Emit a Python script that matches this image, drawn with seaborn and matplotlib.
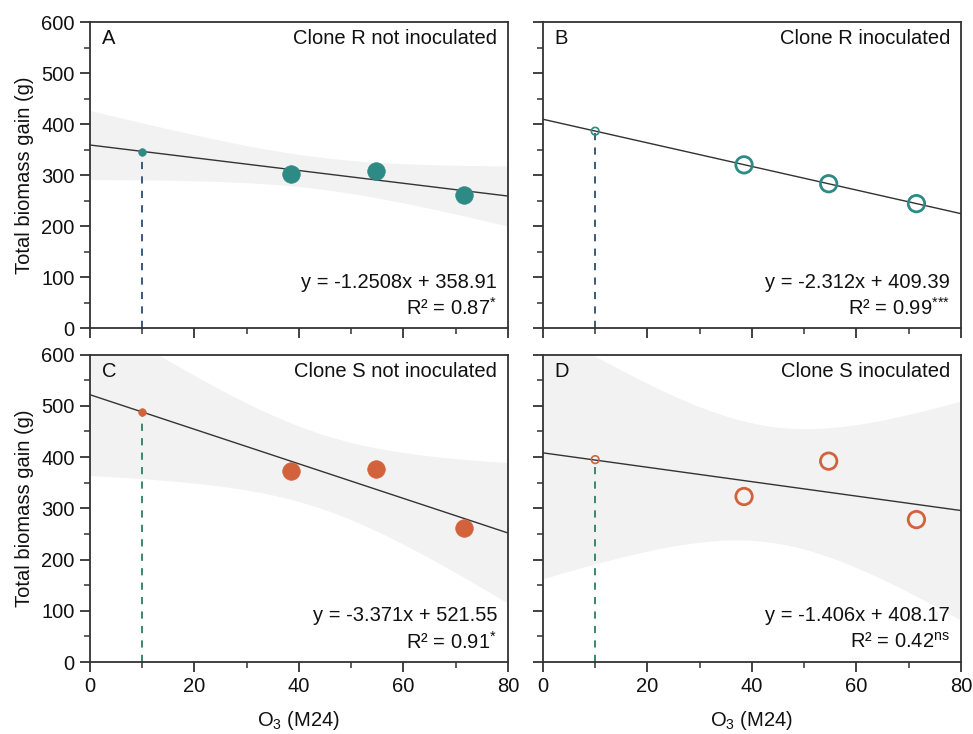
import numpy as np
import pandas as pd
import matplotlib
matplotlib.use("Agg")
import matplotlib.pyplot as plt
import seaborn as sns
from matplotlib.ticker import MultipleLocator

sns.set_theme(style="ticks")
plt.rcParams['font.family'] = ['Liberation Sans', 'DejaVu Sans']
plt.rcParams['mathtext.fontset'] = 'custom'
plt.rcParams['mathtext.rm'] = 'Liberation Sans'
plt.rcParams['mathtext.it'] = 'Liberation Sans:italic'
plt.rcParams['mathtext.default'] = 'regular'

# ---- data ----
panel_letters = ["A", "B", "C", "D"]
panel_titles = ["Clone R not inoculated", "Clone R inoculated",
                "Clone S not inoculated", "Clone S inoculated"]
o3_levels = [38.5, 54.7, 71.5]
biomass_A = [302, 307, 261]
biomass_B = [320, 283, 244]
biomass_C = [372, 376, 261]
biomass_D = [323, 392, 278]
ref_x = 10
ref_y = [346, 386, 488, 395]
slopes = [-1.2508, -2.312, -3.371, -1.406]
intercepts = [358.91, 409.39, 521.55, 408.17]
eq_labels = ["y = -1.2508x + 358.91", "y = -2.312x + 409.39",
             "y = -3.371x + 521.55", "y = -1.406x + 408.17"]
r2_labels = ["R\u00b2 = 0.87$^{{*}}$", "R\u00b2 = 0.99$^{{*}{*}{*}}$",
             "R\u00b2 = 0.91$^{{*}}$", "R\u00b2 = 0.42$^{ns}$"]
filled = [True, False, True, False]
T95_DF2 = 4.303

teal = "#2e8a84"
orange = "#d2623c"
marker_colors = [teal, teal, orange, orange]
dash_colors = ["#2b4d6e", "#2b4d6e", "#2e7d60", "#2e7d60"]
biomass = [biomass_A, biomass_B, biomass_C, biomass_D]

FS = 14.5
fig = plt.figure(figsize=(9.73, 7.34), dpi=100)
positions = [
    [0.0925, 0.553, 0.4295, 0.417],
    [0.558, 0.553, 0.4295, 0.417],
    [0.0925, 0.098, 0.4295, 0.419],
    [0.558, 0.098, 0.4295, 0.419],
]
edge = "#333333"
txt = "#111111"
for i in range(4):
    ax = fig.add_axes(positions[i])
    xs = np.linspace(0, 80, 200)
    b1, b0 = slopes[i], intercepts[i]
    yline = b0 + b1 * xs
    # confidence band of the fit (4 points incl. reference point)
    x4 = np.array([ref_x] + o3_levels, dtype=float)
    y4 = np.array([ref_y[i]] + biomass[i], dtype=float)
    res = y4 - (b0 + b1 * x4)
    n = len(x4)
    s = np.sqrt(np.sum(res ** 2) / (n - 2))
    xm = x4.mean()
    sxx = np.sum((x4 - xm) ** 2)
    h = T95_DF2 * s * np.sqrt(1 / n + (xs - xm) ** 2 / sxx)
    ax.fill_between(xs, yline - h, yline + h, color="#f2f2f2", lw=0, zorder=1)
    # fit line
    sns.lineplot(x=xs, y=yline, ax=ax, color="#333333", lw=1.0, zorder=3)
    # dashed reference line
    ax.plot([ref_x, ref_x], [0, ref_y[i]], ls=(0, (4, 4)), color=dash_colors[i], lw=1.3, zorder=2)
    df = pd.DataFrame({"x": o3_levels, "y": biomass[i]})
    if filled[i]:
        sns.scatterplot(data=df, x="x", y="y", ax=ax, s=160, color=marker_colors[i],
                        edgecolor=marker_colors[i], linewidth=0.5, zorder=4)
        sns.scatterplot(x=[ref_x], y=[ref_y[i]], ax=ax, s=30, color=marker_colors[i],
                        edgecolor=marker_colors[i], linewidth=0.5, zorder=4)
    else:
        sns.scatterplot(data=df, x="x", y="y", ax=ax, s=140, facecolor="none",
                        edgecolor=marker_colors[i], linewidth=2.0, zorder=4)
        sns.scatterplot(x=[ref_x], y=[ref_y[i]], ax=ax, s=30, facecolor="none",
                        edgecolor=marker_colors[i], linewidth=1.2, zorder=4)
    ax.set_xlim(0, 80)
    ax.set_ylim(0, 600)
    ax.xaxis.set_major_locator(MultipleLocator(20))
    ax.xaxis.set_minor_locator(MultipleLocator(10))
    ax.yaxis.set_major_locator(MultipleLocator(100))
    ax.yaxis.set_minor_locator(MultipleLocator(50))
    ax.tick_params(axis="both", which="major", direction="out", length=7, width=1.3,
                   color=edge, labelsize=FS, pad=4, labelcolor=txt)
    ax.tick_params(axis="both", which="minor", direction="out", length=4, width=1.1, color=edge)
    for sp in ax.spines.values():
        sp.set_visible(True)
        sp.set_color(edge)
        sp.set_linewidth(1.3)
    if i in (0, 1):
        ax.set_xticklabels([])
        ax.set_xlabel("")
    else:
        ax.set_xlabel("O$_3$ (M24)", fontsize=FS, labelpad=9, color=txt)
    if i in (1, 3):
        ax.set_yticklabels([])
        ax.set_ylabel("")
    else:
        ax.set_ylabel("Total biomass gain (g)", fontsize=FS, labelpad=5, color=txt)
    ax.text(0.028, 0.945, panel_letters[i], transform=ax.transAxes, fontsize=FS,
            ha="left", va="center", color=txt)
    ax.text(0.974, 0.945, panel_titles[i], transform=ax.transAxes, fontsize=FS,
            ha="right", va="center", color=txt)
    ax.text(0.974, 0.15, eq_labels[i], transform=ax.transAxes, fontsize=FS,
            ha="right", va="center", color=txt)
    ax.text(0.974, 0.065, r2_labels[i], transform=ax.transAxes, fontsize=FS,
            ha="right", va="center", color=txt)

fig.savefig("out.png", dpi=100)
